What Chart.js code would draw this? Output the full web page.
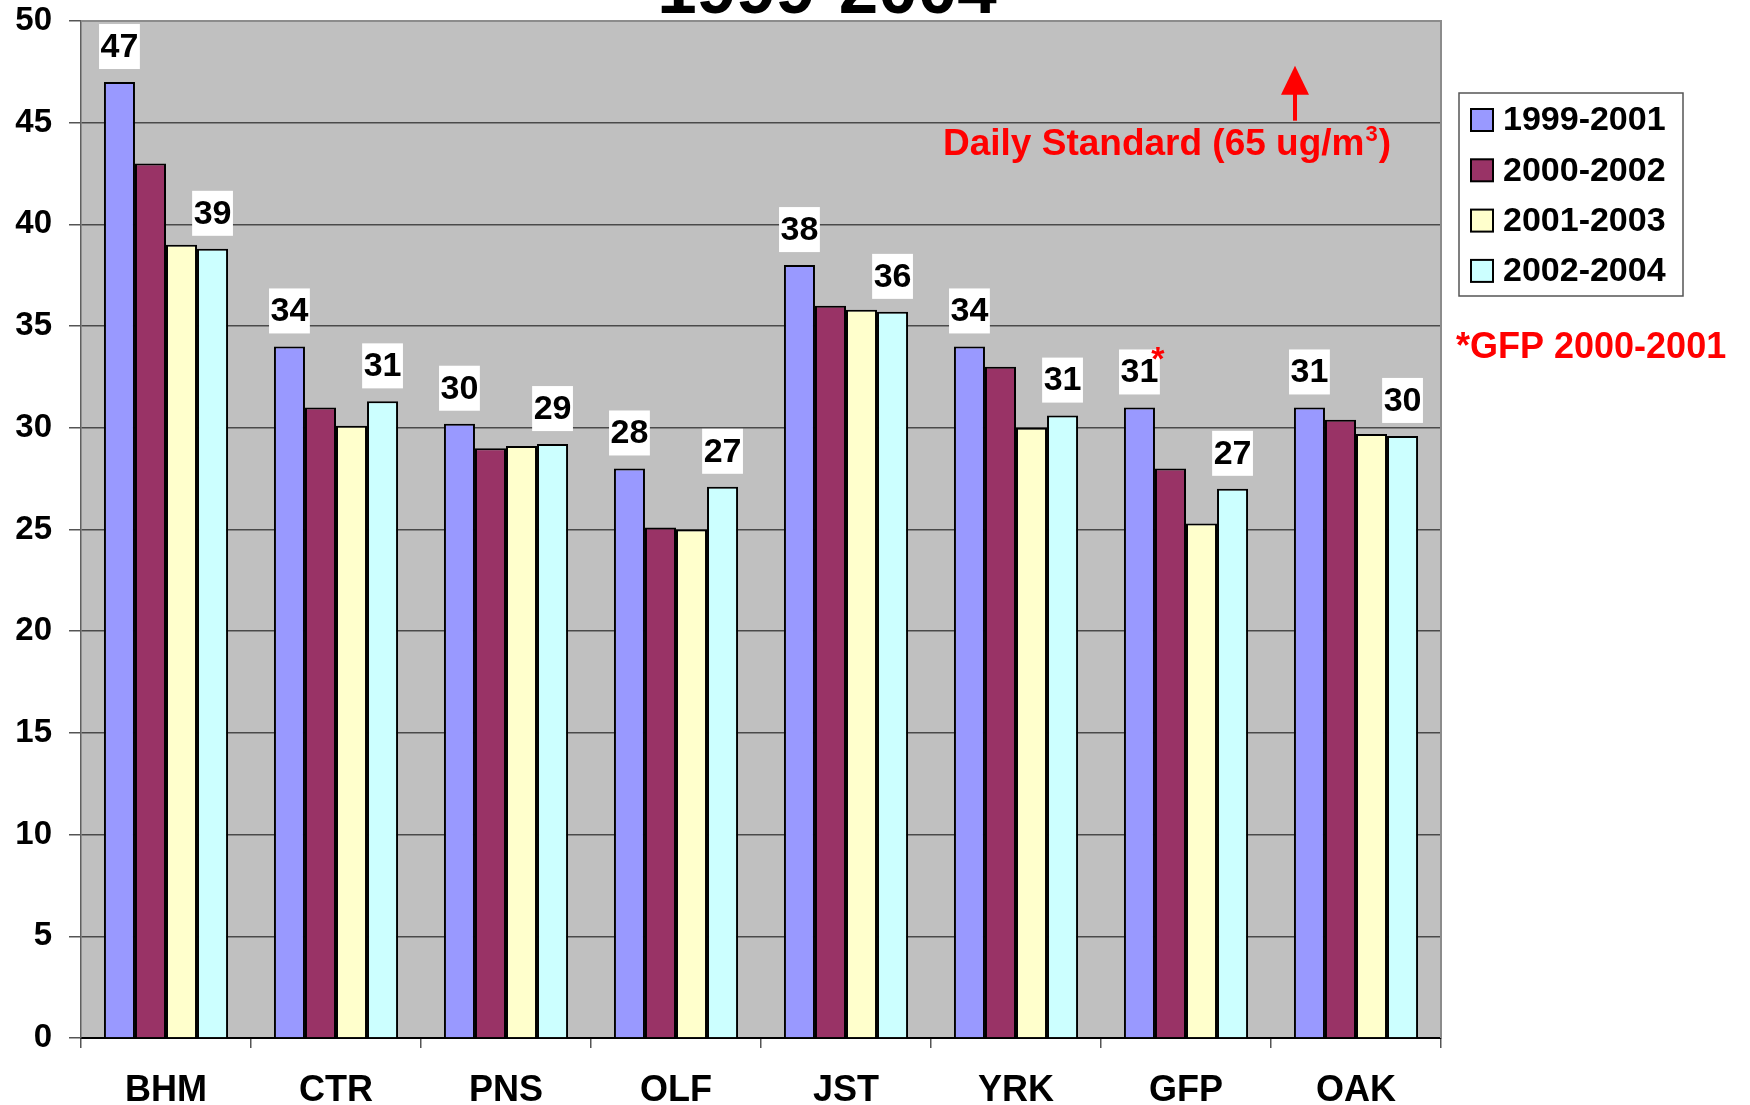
<!DOCTYPE html>
<html lang="en">
<head>
  <meta charset="UTF-8">
  <title>PM2.5 Design Values 1999-2004</title>
  <script src="https://cdn.jsdelivr.net/npm/chart.js"></script>
  <style>
    html, body { margin: 0; padding: 0; background: #fff; }
    #wrap { width: 1750px; height: 1105px; }
  </style>
</head>
<body>
  <div id="wrap"><canvas id="pmChart"></canvas></div>

  <script>
    // Sites and the four 3-year periods
    const sites = ['BHM', 'CTR', 'PNS', 'OLF', 'JST', 'YRK', 'GFP', 'OAK'];
    const periods = ['1999-2001', '2000-2002', '2001-2003', '2002-2004'];

    // ug/m3 per site, one list per period
    const values1999_2001 = [47, 34, 30.2, 28, 38, 34, 31, 31];
    const values2000_2002 = [43, 31, 29, 25.1, 36, 33, 28, 30.4];
    const values2001_2003 = [39, 30.1, 29.1, 25, 35.8, 30, 25.3, 29.7];
    const values2002_2004 = [38.8, 31.3, 29.2, 27.1, 35.7, 30.6, 27, 29.6];

    // value labels are shown on the first and last period only
    const labelledPeriods = [0, 3];
    const siteNotes = ['', '', '', '', '', '', '*', ''];

    const yMin = 0;
    const yMax = 50;
    const yStep = 5;

    const titleText = '1999-2004';
    const standardText = 'Daily Standard (65 ug/m';
    const footNote = '*GFP 2000-2001';

    const barColors = ['#9999FF', '#993366', '#FFFFCC', '#CCFFFF'];
    const FONT = "'Liberation Sans', Arial, sans-serif";

    Chart.defaults.font.family = FONT;
    Chart.defaults.color = '#000';

    const seriesValues = [values1999_2001, values2000_2002, values2001_2003, values2002_2004];

    // grey plot area + its border
    const plotBackground = {
      id: 'plotBackground',
      beforeDraw(chart) {
        const { ctx, chartArea: a } = chart;
        ctx.save();
        ctx.fillStyle = '#C0C0C0';
        ctx.fillRect(a.left, a.top, a.right - a.left, a.bottom - a.top);
        ctx.restore();
      },
      beforeDatasetsDraw(chart) {
        const { ctx, chartArea: a } = chart;
        ctx.save();
        ctx.strokeStyle = '#8c8c8c';
        ctx.lineWidth = 2;
        ctx.beginPath();
        ctx.moveTo(a.left, a.top);
        ctx.lineTo(a.right, a.top);
        ctx.lineTo(a.right, a.bottom);
        ctx.stroke();
        ctx.restore();
      }
    };

    // white boxed value labels above bars
    const valueLabels = {
      id: 'valueLabels',
      afterDatasetsDraw(chart) {
        const ctx = chart.ctx;
        ctx.save();
        labelledPeriods.forEach((ds) => {
          const meta = chart.getDatasetMeta(ds);
          meta.data.forEach((bar, i) => {
            const text = String(Math.round(chart.data.datasets[ds].data[i]));
            ctx.font = 'bold 34px ' + FONT;
            const w = ctx.measureText(text).width + 3;
            const h = 45;
            const bottom = bar.y - 13;
            ctx.fillStyle = '#fff';
            ctx.fillRect(bar.x - w / 2, bottom - h, w, h);
            ctx.fillStyle = '#000';
            ctx.textAlign = 'center';
            ctx.textBaseline = 'middle';
            ctx.fillText(text, bar.x, bottom - h / 2 + 1);
            if (ds === 0 && siteNotes[i]) {
              ctx.fillStyle = '#FF0000';
              ctx.font = 'bold 34px ' + FONT;
              ctx.textBaseline = 'alphabetic';
              ctx.fillText(siteNotes[i], bar.x + w / 2 - 2, bottom - h + 21);
            }
          });
        });
        ctx.restore();
      }
    };

    // title, standard arrow, legend box, footnote
    const extras = {
      id: 'extras',
      afterDraw(chart) {
        const { ctx, chartArea: a } = chart;
        ctx.save();

        ctx.fillStyle = '#000';
        ctx.font = 'bold 71px ' + FONT;
        ctx.textAlign = 'center';
        ctx.textBaseline = 'alphabetic';
        ctx.fillText(titleText, 827, 13);

        // arrow pointing up to the daily standard
        const ax = a.right - 146;
        const yBase = chart.scales.y.getPixelForValue(45) - 2;
        ctx.fillStyle = '#FF0000';
        ctx.fillRect(ax - 2, yBase - 28, 4, 28);
        ctx.beginPath();
        ctx.moveTo(ax, yBase - 55);
        ctx.lineTo(ax + 14, yBase - 26);
        ctx.lineTo(ax - 14, yBase - 26);
        ctx.closePath();
        ctx.fill();

        ctx.font = 'bold 37px ' + FONT;
        ctx.textAlign = 'left';
        let tx = 943;
        const ty = 155;
        ctx.fillText(standardText, tx, ty);
        tx += ctx.measureText(standardText).width;
        ctx.font = 'bold 22px ' + FONT;
        ctx.fillText('3', tx + 1, ty - 14);
        tx += ctx.measureText('3').width + 2;
        ctx.font = 'bold 37px ' + FONT;
        ctx.fillText(')', tx, ty);

        // legend
        const lx = 1459, ly = 93, lw = 224, lh = 203;
        ctx.fillStyle = '#fff';
        ctx.fillRect(lx, ly, lw, lh);
        ctx.strokeStyle = '#555';
        ctx.lineWidth = 1.5;
        ctx.strokeRect(lx, ly, lw, lh);
        chart.data.datasets.forEach((ds, i) => {
          const cy = 120 + i * 50.3;
          ctx.fillStyle = ds.backgroundColor;
          ctx.fillRect(1471, cy - 11, 22, 22);
          ctx.strokeStyle = '#000';
          ctx.lineWidth = 2;
          ctx.strokeRect(1471, cy - 11, 22, 22);
          ctx.fillStyle = '#000';
          ctx.font = 'bold 34px ' + FONT;
          ctx.textBaseline = 'middle';
          ctx.fillText(ds.label, 1503, cy + 1);
        });

        ctx.fillStyle = '#FF0000';
        ctx.font = 'bold 36px ' + FONT;
        ctx.textBaseline = 'alphabetic';
        ctx.fillText(footNote, 1456, 358);
        ctx.restore();
      }
    };

    new Chart(document.getElementById('pmChart'), {
      type: 'bar',
      data: {
        labels: sites,
        datasets: periods.map((p, i) => ({
          label: p,
          data: seriesValues[i],
          backgroundColor: barColors[i],
          borderColor: '#000',
          borderWidth: 2,
          barPercentage: 1,
          categoryPercentage: 0.73
        }))
      },
      options: {
        responsive: true,
        maintainAspectRatio: false,
        animation: false,
        layout: { padding: { top: 21, left: 14, right: 309, bottom: 0 } },
        plugins: {
          legend: { display: false },
          title: { display: false },
          tooltip: { enabled: false }
        },
        scales: {
          x: {
            grid: { drawOnChartArea: false, tickLength: 10, color: '#555', lineWidth: 1.5 },
            border: { color: '#000', width: 2 },
            ticks: { font: { size: 36, weight: 'bold' }, padding: 21, color: '#000' },
            afterFit(scale) {
              scale.height = 67;
              scale.paddingLeft = 0;
              scale.paddingRight = 0;
            }
          },
          y: {
            min: yMin,
            max: yMax,
            grid: {
              color: (c) => c.tick.value === yMax ? '#8c8c8c' : (c.tick.value === yMin ? 'rgba(0,0,0,0)' : '#4a4a4a'),
              lineWidth: 1.5,
              tickLength: 12,
              tickColor: '#555'
            },
            border: { color: '#606060', width: 1.5 },
            ticks: { stepSize: yStep, font: { size: 33, weight: 'bold' }, padding: 17, color: '#000' },
            afterFit(scale) {
              scale.width = 67;
              scale.paddingTop = 0;
              scale.paddingBottom = 0;
            }
          }
        }
      },
      plugins: [plotBackground, valueLabels, extras]
    });
  </script>
</body>
</html>
